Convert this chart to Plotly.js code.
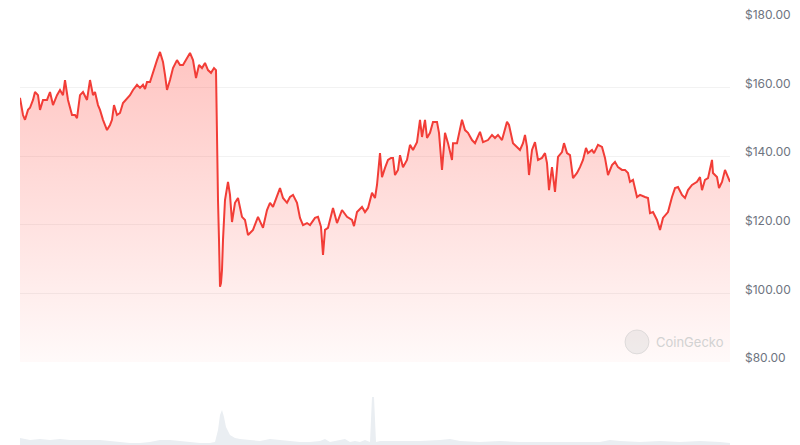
<!DOCTYPE html>
<html>
<head>
<meta charset="utf-8">
<script src="https://cdn.plot.ly/plotly-3.0.1.min.js"></script>
<style>
html,body{margin:0;padding:0;background:#fff;}
#chart{width:800px;height:445px;}
</style>
</head>
<body>
<div id="chart"></div>
<script>
// timeline positions (sample index along the period) and price in USD
const t = [0,3,5,8,10,13,15,18,20,23,27,30,33,37,40,43,45,48,52,55,57,60,63,67,70,73,75,78,80,83,87,90,92,94,97,100,103,107,110,113,117,120,123,125,127,130,133,137,140,143,145,147,150,153,157,160,163,167,170,173,176,179,182,185,188,191,194,196,197,198,199,200,201,202,203,205,208,210,212,215,218,222,225,228,230,233,238,243,247,250,253,257,260,263,267,270,273,277,280,283,287,290,295,298,301,303,305,308,313,317,322,327,332,334,337,342,345,348,352,355,357,360,362,365,368,371,373,375,378,380,383,387,390,393,397,400,402,405,407,410,413,417,419,422,425,428,432,433,437,442,445,448,452,455,460,463,468,472,475,478,482,487,489,493,497,500,503,505,507,509,512,515,518,522,525,527,529,532,535,538,542,544,547,550,553,557,560,563,566,568,572,574,578,582,585,588,592,595,598,602,605,608,610,613,617,620,625,628,630,633,637,640,643,648,652,655,658,662,665,668,672,677,680,682,685,688,692,693,697,699,702,705,708,710];
const price = [157.0,152.0,150.6,153.5,154.1,156.4,158.7,157.8,153.5,156.4,156.4,158.7,154.9,157.8,159.3,157.8,162.2,156.4,152.0,152.0,151.1,157.8,158.7,156.4,162.2,157.8,158.7,154.9,153.5,150.6,147.6,149.1,150.6,154.9,152.0,152.6,155.5,157.0,157.8,159.3,160.8,159.9,160.8,159.6,161.6,161.6,164.5,168.0,170.4,167.5,163.7,159.3,162.2,165.7,168.0,166.6,166.6,168.6,170.1,168.0,162.8,166.6,165.7,167.2,165.1,164.3,165.7,165.1,138.9,127.2,115.6,101.9,103.0,106.8,115.6,127.2,132.5,128.7,120.8,126.4,127.8,122.3,121.4,117.0,117.6,118.5,122.3,119.1,124.3,126.4,125.2,128.7,130.7,127.8,126.4,128.1,128.7,126.4,122.0,119.9,120.5,119.9,122.0,122.3,119.4,111.2,118.5,119.1,124.9,120.5,124.3,122.3,121.4,119.6,123.7,125.2,123.7,124.9,129.3,127.8,131.6,140.9,133.9,136.6,138.9,139.5,139.5,134.5,136.0,140.3,136.8,138.9,143.3,141.8,144.1,150.6,145.6,150.6,145.3,146.8,150.0,150.0,146.8,136.0,146.8,143.8,138.9,143.8,143.8,150.6,147.6,146.8,144.7,143.8,147.1,144.1,144.7,146.2,145.3,146.2,144.7,150.0,149.1,143.8,142.7,141.8,143.8,146.2,142.7,134.5,141.8,144.1,138.9,139.5,140.9,138.0,130.1,136.8,129.6,139.8,141.2,143.8,140.9,140.3,133.6,135.1,136.8,138.9,142.4,140.9,141.8,140.9,143.3,142.7,139.5,134.5,137.4,138.3,136.8,136.0,136.0,135.1,132.5,133.1,128.1,128.7,128.1,127.8,123.4,123.7,121.4,118.5,122.0,123.7,128.1,130.7,131.0,128.7,127.8,130.1,131.6,132.5,133.9,130.1,133.1,133.6,138.9,135.1,133.9,130.7,132.5,136.0,133.9,132.5];

// trading volume (USD millions, approximate)
const volT = [0,10,20,30,40,50,60,70,80,90,100,110,120,130,140,150,160,170,180,190,195,198,200,202,204,206,210,215,220,230,240,250,260,270,280,290,300,305,310,320,325,330,335,340,345,350,352,354,356,360,370,380,400,420,430,440,460,480,500,520,540,560,580,590,600,620,640,660,680,700,710];
const volume = [70,50,60,50,60,50,50,50,50,40,30,20,20,30,50,50,40,30,20,20,30,150,300,350,280,180,100,70,60,50,40,60,50,40,30,30,40,60,30,50,60,30,40,30,50,30,480,480,30,40,40,40,40,50,60,40,30,40,30,30,30,30,30,50,40,30,40,30,40,30,20];

// price axis ticks
const tickVals = [80,100,120,140,160,180];
const tickText = ['$80.00','$100.00','$120.00','$140.00','$160.00','$180.00'];

const priceTrace = {
  x: t, y: price, type: 'scatter', mode: 'lines',
  line: {color: '#f23d37', width: 2},
  fill: 'tozeroy',
  fillgradient: {
    type: 'vertical', start: 80, stop: 172,
    colorscale: [[0, 'rgba(255,70,60,0.03)'], [1, 'rgba(255,70,60,0.32)']]
  },
  xaxis: 'x', yaxis: 'y', hoverinfo: 'skip'
};

const volTrace = {
  x: volT, y: volume, type: 'scatter', mode: 'lines',
  line: {color: 'rgba(0,0,0,0)', width: 0},
  fill: 'tozeroy', fillcolor: '#eaeef2',
  xaxis: 'x', yaxis: 'y2', hoverinfo: 'skip'
};

const layout = {
  width: 800, height: 445,
  margin: {l: 20, r: 70, t: 19, b: 0},
  paper_bgcolor: '#ffffff', plot_bgcolor: '#ffffff',
  showlegend: false,
  hovermode: false,
  font: {family: 'Inter, "Noto Sans", sans-serif', color: '#6e7480', size: 12},
  xaxis: {visible: false, range: [0, 710], fixedrange: true},
  yaxis: {
    domain: [0.195, 1], range: [80, 180], side: 'right',
    tickvals: tickVals, ticktext: tickText,
    showgrid: true, gridcolor: '#f2f2f2', gridwidth: 1,
    zeroline: false, showline: false, ticks: '',
    ticklabelstandoff: 14, ticklabelshift: -4,
    tickfont: {size: 12, color: '#6e7480'}
  },
  yaxis2: {
    domain: [0, 0.19], range: [0, 810], visible: false, fixedrange: true
  },
  shapes: [
    {type: 'circle', xref: 'paper', yref: 'paper', xsizemode: 'pixel', ysizemode: 'pixel',
     xanchor: 0.869, yanchor: 0.242, x0: -12, x1: 12, y0: -12, y1: 12,
     fillcolor: 'rgba(210,210,210,0.35)', line: {color: 'rgba(200,200,200,0.5)', width: 1}}
  ],
  annotations: [
    {xref: 'paper', yref: 'paper', x: 0.893, y: 0.242, xanchor: 'left', yanchor: 'middle',
     text: 'CoinGecko', showarrow: false,
     font: {family: 'Inter, "Noto Sans", sans-serif', size: 13, color: '#d2d2d2'}}
  ]
};

Plotly.newPlot('chart', [volTrace, priceTrace], layout, {displayModeBar: false, staticPlot: true});
</script>
</body>
</html>
